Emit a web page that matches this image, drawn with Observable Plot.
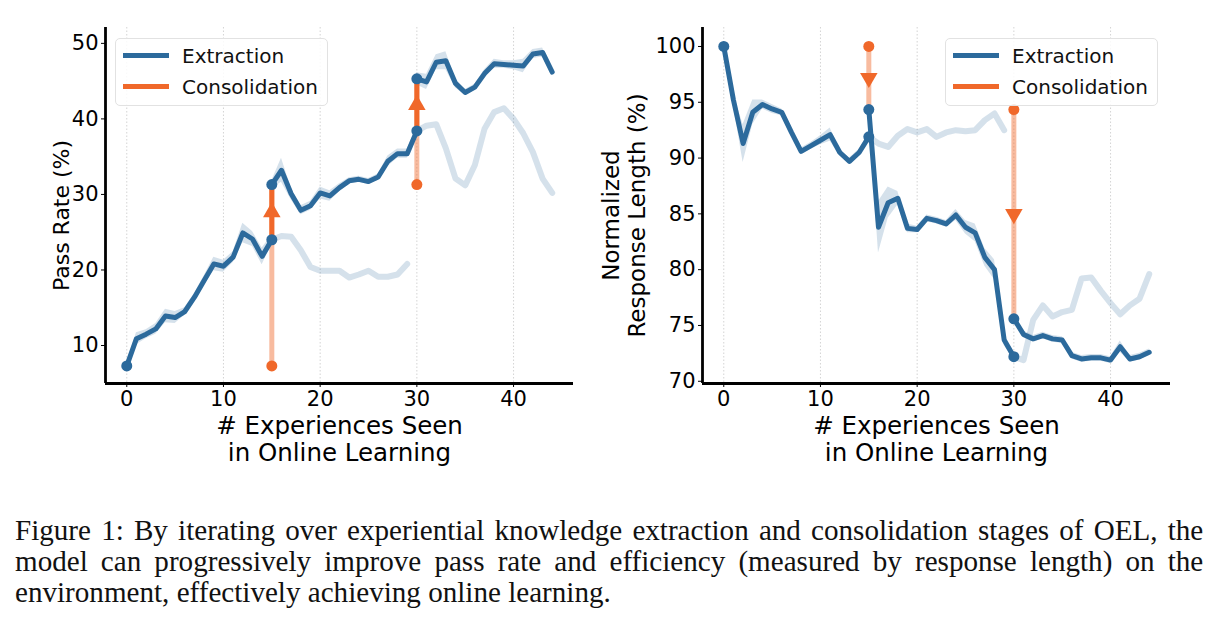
<!DOCTYPE html>
<html><head><meta charset="utf-8">
<script src="https://cdn.jsdelivr.net/npm/d3@7"></script>
<script src="https://cdn.jsdelivr.net/npm/@observablehq/plot@0.6"></script>
<style>
body{margin:0;background:#fff;}
#wrap{position:relative;width:1219px;height:626px;overflow:hidden;font-family:"DejaVu Sans",sans-serif;}
#left{position:absolute;left:0;top:0;}
#right{position:absolute;left:580px;top:0;}
.legend{position:absolute;top:38px;width:211px;height:66px;border:1px solid #e2e2e2;border-radius:5px;background:rgba(255,255,255,0.85);}
.sw{position:absolute;left:7px;width:46px;height:5px;}
.lt{position:absolute;left:66px;font-size:20px;line-height:20px;color:#111;}
.cap{position:absolute;left:15px;top:514px;width:1225px;font-family:"Liberation Serif",serif;font-size:30px;color:#111;transform:scaleX(0.97);transform-origin:0 0;}
.cap div{height:31px;line-height:31px;text-align:justify;text-align-last:justify;}
.cap div.last{text-align-last:left;}
</style>
</head><body>
<div id="wrap">
  <div id="left"></div>
  <div id="right"></div>
  <div class="legend" style="left:115px">
    <div class="sw" style="top:14px;background:#2c6a9c"></div><div class="lt" style="top:7px">Extraction</div>
    <div class="sw" style="top:45px;background:#f0682a"></div><div class="lt" style="top:38px">Consolidation</div>
  </div>
  <div class="legend" style="left:945px">
    <div class="sw" style="top:14px;background:#2c6a9c"></div><div class="lt" style="top:7px">Extraction</div>
    <div class="sw" style="top:45px;background:#f0682a"></div><div class="lt" style="top:38px">Consolidation</div>
  </div>
  <div class="cap">
    <div>Figure 1: By iterating over experiential knowledge extraction and consolidation stages of OEL, the</div>
    <div>model can progressively improve pass rate and efficiency (measured by response length) on the</div>
    <div class="last">environment, effectively achieving online learning.</div>
  </div>
</div>
<script>
// ---------- data ----------
const xTicks = [0, 10, 20, 30, 40];
const xLabel = "# Experiences Seen\nin Online Learning";
const segmentStarts = [0, 15, 30];

// Pass rate (%) — left panel
const passYTicks = [10, 20, 30, 40, 50];
const passLabel = "Pass Rate (%)";
const passA = [7.3, 10.9, 11.5, 12.2, 13.9, 13.7, 14.5, 16.4, 18.6, 20.8, 20.5, 21.7, 24.9, 24.1, 21.8, 24.0];
const passAErr = [0.3, 0.8, 0.6, 0.7, 0.9, 0.8, 0.5, 0.5, 0.6, 0.9, 0.8, 0.7, 1.3, 1.0, 1.1, 0.6];
const passB = [31.3, 33.2, 30.1, 27.9, 28.5, 30.2, 29.8, 30.9, 31.8, 32.0, 31.7, 32.3, 34.4, 35.4, 35.4, 38.4];
const passBErr = [0.5, 1.6, 0.8, 0.6, 0.6, 0.8, 0.7, 0.5, 0.4, 0.4, 0.4, 0.4, 0.7, 0.6, 0.6, 0.5];
const passC = [45.3, 44.9, 47.5, 47.7, 44.7, 43.5, 44.2, 46.0, 47.3, 47.2, 47.1, 47.0, 48.6, 48.8, 46.2];
const passCErr = [0.8, 1.0, 1.0, 1.2, 0.6, 0.4, 0.4, 0.5, 0.6, 0.5, 0.6, 0.9, 0.6, 0.6, 0.5];
const passBFade = [24.0, 24.5, 24.4, 22.6, 20.4, 19.9, 19.9, 19.9, 19.0, 19.4, 19.9, 19.1, 19.1, 19.4, 20.8];
const passCFade = [38.4, 39.1, 39.3, 36.1, 32.1, 31.2, 33.9, 38.7, 40.9, 41.4, 40.0, 38.1, 35.6, 32.1, 30.2];
const passConsolidated = [7.3, 31.3];

// Normalized response length (%) — right panel
const lenYTicks = [70, 75, 80, 85, 90, 95, 100];
const lenLabel = "Normalized\nResponse Length (%)";
const lenA = [100.0, 95.2, 91.3, 94.1, 94.8, 94.4, 94.1, 92.3, 90.6, 91.1, 91.6, 92.1, 90.5, 89.7, 90.5, 91.9];
const lenAErr = [0.2, 0.5, 1.7, 1.1, 0.4, 0.4, 0.3, 0.3, 0.3, 0.3, 0.4, 0.6, 0.3, 0.3, 0.3, 0.3];
const lenB = [94.35, 83.8, 86.0, 86.4, 83.7, 83.6, 84.6, 84.4, 84.1, 84.9, 83.8, 83.3, 81.1, 80.0, 73.7, 72.2];
const lenBErr = [0.3, 2.3, 1.4, 0.6, 0.4, 0.3, 0.3, 0.3, 0.3, 0.5, 0.6, 0.8, 0.8, 0.9, 0.5, 0.3];
const lenC = [75.6, 74.2, 73.8, 74.1, 73.8, 73.7, 72.3, 72.0, 72.1, 72.1, 71.9, 73.1, 72.0, 72.2, 72.6];
const lenCErr = [0.3, 0.3, 0.3, 0.3, 0.3, 0.3, 0.3, 0.3, 0.3, 0.3, 0.3, 0.5, 0.3, 0.3, 0.3];
const lenBFade = [91.9, 91.3, 91.0, 92.0, 92.6, 92.3, 92.6, 91.9, 92.3, 92.5, 92.4, 92.5, 93.4, 94.0, 92.5];
const lenCFade = [72.2, 71.9, 75.5, 76.8, 75.8, 76.2, 76.4, 79.2, 79.3, 78.1, 77.0, 76.0, 76.8, 77.4, 79.6];
const lenConsolidated = [100.0, 94.35];

// ---------- drawing ----------
const BLUE = "#2c6a9c", ORANGE = "#f0682a";
const toPts = (x0, ys, es) => ys.map((y, i) => ({x: x0 + i, y, e: es ? es[i] : 0}));

function panel({width, marginLeft, marginRight, yDomain, yTicks, yLabel, yLabelDx, yLabelDy, yLabelSize, mains, errs, fades, consolidated, higherIsBetter}) {
  const segs = mains.map((m, i) => toPts(segmentStarts[i], m, errs[i]));
  const fadeSegs = fades.map((f, i) => toPts(segmentStarts[i + 1], f));
  const cons = consolidated.map((c, i) => {
    const to = mains[i + 1][0];
    const prev = mains[i][mains[i].length - 1];
    return {x: segmentStarts[i + 1], from: c, to, prev, arrow: higherIsBetter ? (prev + to) / 2 : (c + to) / 2, down: to < c};
  });
  const dots = [];
  segs.forEach((s, i) => { dots.push(s[0]); if (i < segs.length - 1) dots.push(s[s.length - 1]); });
  const xDomain = [-2.2, 46.2];
  return Plot.plot({
    width, height: 480,
    marginLeft, marginRight, marginTop: 27, marginBottom: 97,
    style: {fontFamily: "DejaVu Sans", fontSize: "21px", color: "#000", background: "transparent"},
    x: {domain: xDomain},
    y: {domain: yDomain},
    marks: [
      Plot.ruleX(xTicks, {stroke: "#cfcfcf", strokeWidth: 0.9, strokeDasharray: "1.5,2"}),
      ...fadeSegs.map(s => Plot.line(s, {x: "x", y: "y", stroke: BLUE, strokeOpacity: 0.2, strokeWidth: 6})),
      ...segs.map(s => Plot.areaY(s, {x: "x", y1: d => d.y - d.e, y2: d => d.y + d.e, fill: BLUE, fillOpacity: 0.2})),
      Plot.ruleX(cons, {x: "x", y1: "from", y2: "to", stroke: ORANGE, strokeOpacity: 0.45, strokeWidth: 5}),
      higherIsBetter ? Plot.ruleX(cons, {x: "x", y1: "prev", y2: "to", stroke: ORANGE, strokeWidth: 5}) : null,
      Plot.dot(cons, {x: "x", y: "arrow", symbol: "triangle", r: 6.5, fill: ORANGE, rotate: d => d.down ? 180 : 0}),
      ...segs.map(s => Plot.line(s, {x: "x", y: "y", stroke: BLUE, strokeWidth: 5, strokeLinejoin: "round"})),
      Plot.dot(dots, {x: "x", y: "y", r: 5.5, fill: BLUE}),
      Plot.dot(cons, {x: "x", y: "from", r: 5.5, fill: ORANGE}),
      Plot.ruleX([xDomain[0]], {stroke: "#000", strokeWidth: 2.8}),
      Plot.ruleY([yDomain[0]], {stroke: "#000", strokeWidth: 2.8}),
      Plot.axisX({ticks: xTicks, tickSize: 4, tickPadding: 4, label: null, fontSize: 21}),
      Plot.axisY({ticks: yTicks, tickSize: 4, tickPadding: 3, label: null, fontSize: 21}),
      Plot.text([xLabel], {text: d => d, frameAnchor: "bottom", dy: 31, lineAnchor: "top", fontSize: 24.5, lineHeight: 1.1}),
      Plot.text([yLabel], {text: d => d, frameAnchor: "left", dx: yLabelDx, dy: yLabelDy, rotate: -90, textAnchor: "middle", lineAnchor: "middle", fontSize: yLabelSize, lineHeight: 1.12})
    ]
  });
}

document.getElementById("left").appendChild(panel({
  width: 600, marginLeft: 105, marginRight: 27,
  yDomain: [4.97, 52.1], yTicks: passYTicks, yLabel: passLabel, yLabelDx: -44, yLabelDy: 10, yLabelSize: 22,
  mains: [passA, passB, passC], errs: [passAErr, passBErr, passCErr],
  fades: [passBFade, passCFade], consolidated: passConsolidated, higherIsBetter: true
}));
document.getElementById("right").appendChild(panel({
  width: 639, marginLeft: 122, marginRight: 49,
  yDomain: [69.8, 101.7], yTicks: lenYTicks, yLabel: lenLabel, yLabelDx: -79, yLabelDy: 10, yLabelSize: 23,
  mains: [lenA, lenB, lenC], errs: [lenAErr, lenBErr, lenCErr],
  fades: [lenBFade, lenCFade], consolidated: lenConsolidated, higherIsBetter: false
}));
</script>
</body></html>
